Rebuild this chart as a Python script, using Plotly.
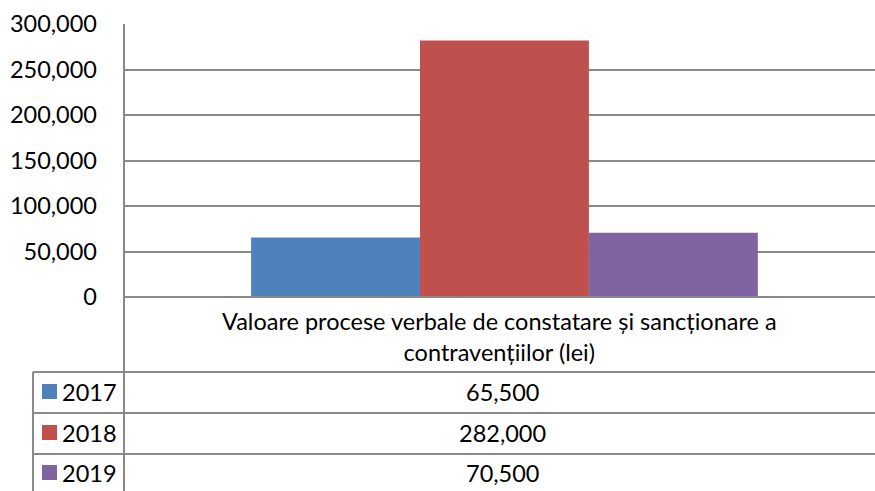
import plotly.graph_objects as go

# data
category = 'Valoare procese verbale de constatare și sancționare a<br>contravențiilor (lei)'
years = ['2017', '2018', '2019']
values = [65500, 282000, 70500]
colors = ['#4F81BD', '#C0504D', '#8064A2']

W, H = 875, 491
L, R, T, B = 124, 875, 24, 297   # plot area in pixels


def px(x):
    return (x - L) / (R - L)


def py(y):
    return (B - y) / (B - T)


FONT = dict(family='Lato, Carlito, sans-serif', size=23.5, color='#000000')
LINE = dict(color='#898989', width=2)

fig = go.Figure()
for yr, v, c in zip(years, values, colors):
    fig.add_trace(go.Bar(x=[0], y=[v], name=yr, marker_color=c,
                         marker_line_width=0, showlegend=False))

fig.update_layout(
    width=W, height=H,
    margin=dict(l=L, r=W - R, t=T, b=H - B),
    paper_bgcolor='white', plot_bgcolor='white',
    barmode='group', bargap=0.334, bargroupgap=0,
    font=FONT,
)
# the Excel plot area runs slightly past the right edge of the picture
fig.update_xaxes(range=[-0.5, 0.487], showticklabels=False, showgrid=False,
                 zeroline=False, showline=False)
fig.update_yaxes(range=[0, 300000], dtick=50000, tickformat=',d',
                 showgrid=True, gridcolor='#898989', gridwidth=2,
                 zeroline=False, showline=False, ticklabelstandoff=26,
                 tickfont=FONT)

# table lines
row_lines = [372, 413, 454]
shapes = []
shapes.append(dict(type='line', xref='paper', yref='paper',
                   x0=px(L), x1=px(L), y0=py(T), y1=py(H), line=LINE))
shapes.append(dict(type='line', xref='paper', yref='paper',
                   x0=px(L), x1=px(R), y0=py(B), y1=py(B), line=LINE))
for yl in row_lines:
    shapes.append(dict(type='line', xref='paper', yref='paper',
                       x0=px(33), x1=px(R), y0=py(yl), y1=py(yl), line=LINE))
shapes.append(dict(type='line', xref='paper', yref='paper',
                   x0=px(33), x1=px(33), y0=py(row_lines[0]), y1=py(H), line=LINE))

annotations = [dict(text=category, xref='paper', yref='paper',
                    x=px(499), y=py(336), showarrow=False,
                    font=FONT, align='center', xanchor='center', yanchor='middle')]

row_mids = [392, 433, 473]
for yr, v, c, ym in zip(years, values, colors, row_mids):
    shapes.append(dict(type='rect', xref='paper', yref='paper',
                       x0=px(42), x1=px(57), y0=py(ym - 8), y1=py(ym + 7),
                       fillcolor=c, line_width=0))
    annotations.append(dict(text=yr, xref='paper', yref='paper', x=px(60),
                            y=py(ym), showarrow=False, font=FONT,
                            xanchor='left', yanchor='middle'))
    annotations.append(dict(text=f'{v:,}', xref='paper', yref='paper',
                            x=px(502), y=py(ym), showarrow=False,
                            font=FONT, xanchor='center', yanchor='middle'))

fig.update_layout(shapes=shapes, annotations=annotations)
fig.write_html('out.html', config={'displayModeBar': False},
               post_script="document.body.style.margin='0';")
